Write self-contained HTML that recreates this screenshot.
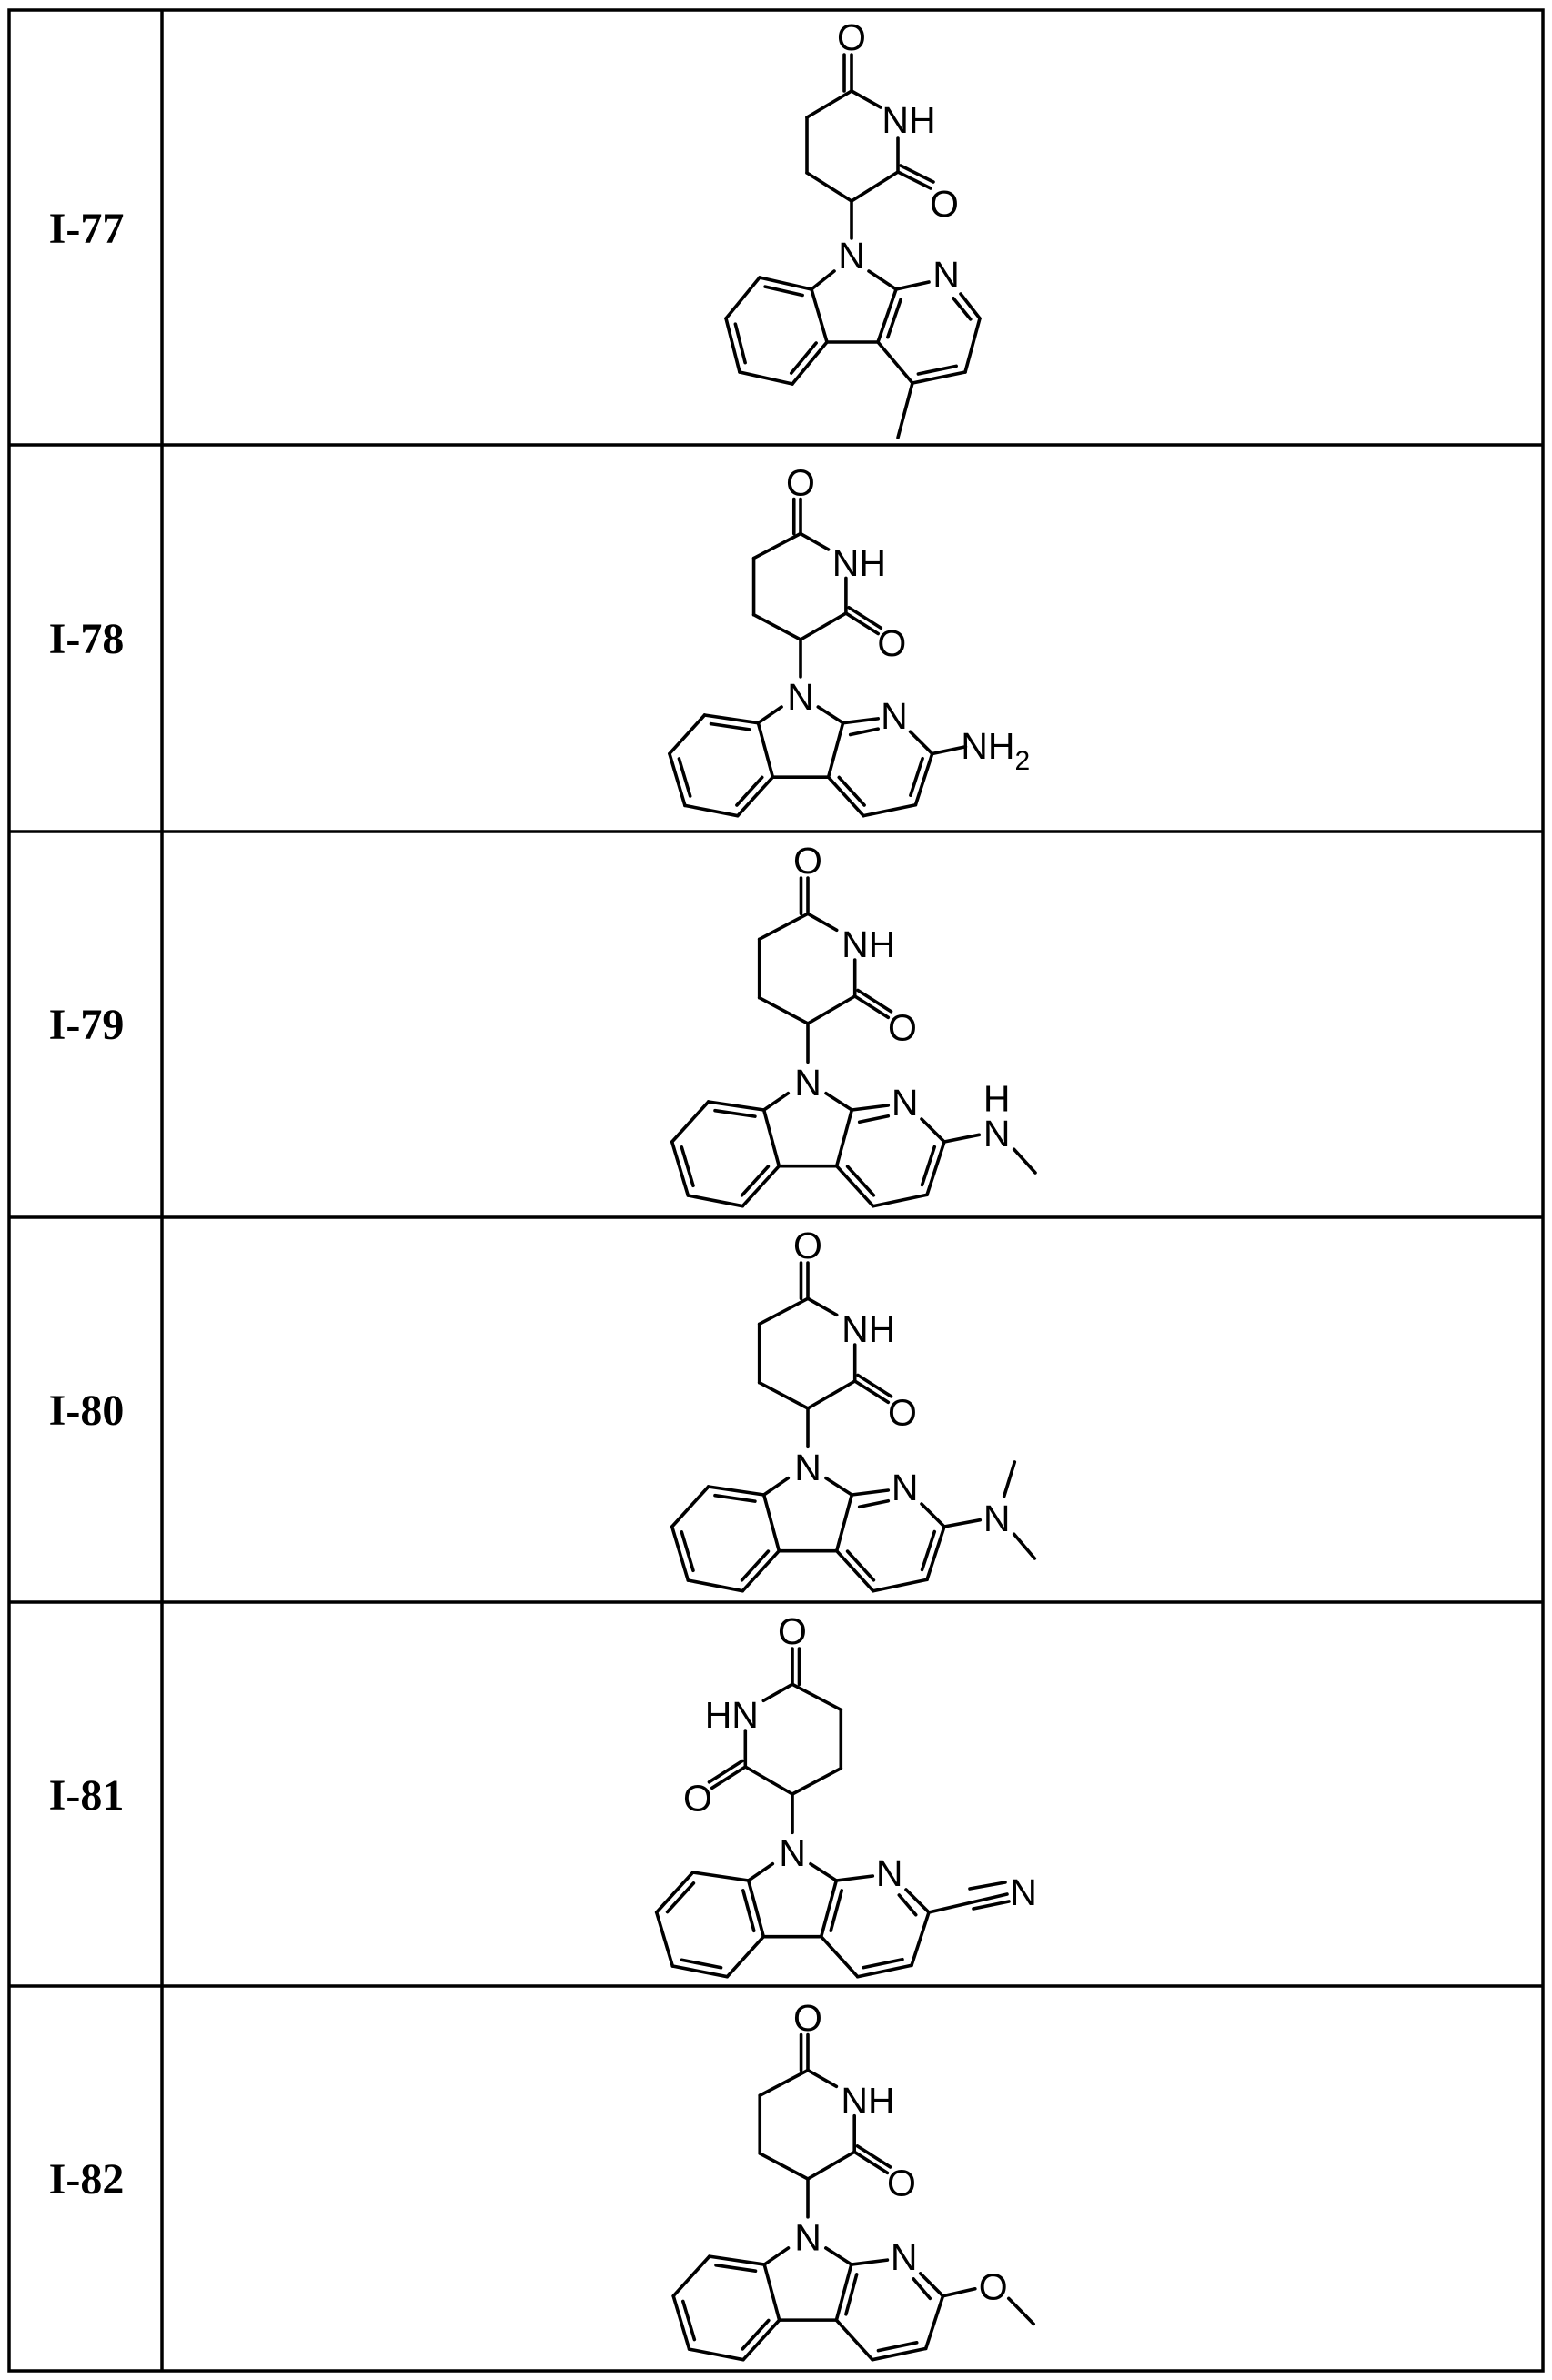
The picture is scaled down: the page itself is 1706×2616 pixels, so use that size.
<!DOCTYPE html>
<html><head><meta charset="utf-8"><style>
html,body{margin:0;padding:0;background:#fff;}
svg{display:block;}
</style></head><body>
<svg id="s" xmlns="http://www.w3.org/2000/svg" width="1706" height="2616" viewBox="0 0 1706 2616">
<rect width="1706" height="2616" fill="#fff"/>
<g stroke="#000" stroke-width="3.5" fill="none">
<rect x="10" y="11" width="1686" height="2595"/>
<line x1="178" y1="11" x2="178" y2="2606"/>
<line x1="10" y1="489" x2="1696" y2="489"/>
<line x1="10" y1="914" x2="1696" y2="914"/>
<line x1="10" y1="1338" x2="1696" y2="1338"/>
<line x1="10" y1="1761" x2="1696" y2="1761"/>
<line x1="10" y1="2183" x2="1696" y2="2183"/>
</g>
<g font-family="Liberation Serif, serif" font-weight="bold" font-size="48" text-anchor="middle">
<text x="95" y="267">I-77</text>
<text x="95" y="718">I-78</text>
<text x="95" y="1142">I-79</text>
<text x="95" y="1566">I-80</text>
<text x="95" y="1989">I-81</text>
<text x="95" y="2411">I-82</text>
</g>
<g id="mol" stroke="#000" stroke-width="3.6" fill="none" stroke-linecap="round"></g>
<g id="lab" font-family="Liberation Sans, sans-serif" font-size="41" text-anchor="middle" fill="#000"></g>
</svg>
<script>
var NS="http://www.w3.org/2000/svg";
var mol=document.getElementById('mol'), lab=document.getElementById('lab');
function L(a,b){var e=document.createElementNS(NS,'line');e.setAttribute('x1',a[0]);e.setAttribute('y1',a[1]);e.setAttribute('x2',b[0]);e.setAttribute('y2',b[1]);mol.appendChild(e);}
function T(p,s){var e=document.createElementNS(NS,'text');e.setAttribute('x',p[0]);e.setAttribute('y',p[1]+15);e.textContent=s;lab.appendChild(e);}
function inner(a,b,c){ // parallel line toward c
  var dx=b[0]-a[0],dy=b[1]-a[1],len=Math.sqrt(dx*dx+dy*dy);
  var nx=-dy/len,ny=dx/len;
  var mx=(a[0]+b[0])/2,my=(a[1]+b[1])/2;
  if((c[0]-mx)*nx+(c[1]-my)*ny<0){nx=-nx;ny=-ny;}
  var o=8.5,f=0.14;
  L([a[0]+dx*f+nx*o,a[1]+dy*f+ny*o],[b[0]-dx*f+nx*o,b[1]-dy*f+ny*o]);
}
function outerPar(a,b,ox,oy){L([a[0]+ox,a[1]+oy],[b[0]+ox,b[1]+oy]);}
function tr(o,s,p,m){return [o[0]+(m?-1:1)*p[0]*s,o[1]+p[1]*s];}

// ---------- I-77 (absolute) ----------
(function(){
 var C1=[936,100],C2=[987,189],C3=[936,221],C4=[887,190],C5=[887,129];
 L(C1,[936,60]);L([928,100],[928,60]);T([936,40],'O');
 L(C1,[968,118]);T([999,131],'NH');
 L([987,152],C2);
 L(C2,[1023,207]);L([990,182],[1026,200]);T([1038,223],'O');
 L(C2,C3);L(C3,C4);L(C4,C5);L(C5,C1);
 L(C3,[936,262]);T([936,280],'N');
 var C9a=[985,318],C8a=[892,318],C2p=[1077,350],C3p=[1061,409],C4p=[1003,421],C4a=[965,376],C4b=[909,376],
     C8=[835,305],C7=[798,350],C6=[813,409],C5p=[871,422];
 L([955,298],C9a);L([917,298],C8a);
 L(C9a,[1021,310]);T([1040,301],'N');
 L([1056,323],C2p);
 L(C2p,C3p);L(C3p,C4p);L(C4p,C4a);L(C4a,C9a);L(C4a,C4b);L(C4b,C8a);
 L(C8a,C8);L(C8,C7);L(C7,C6);L(C6,C5p);L(C5p,C4b);
 L(C4p,[987,481]);
 var bc=[853,363],pc=[1030,366];
 inner(C8a,C8,bc);inner(C7,C6,bc);inner(C5p,C4b,bc);
 inner(C9a,C4a,pc);inner([1051,318],C2p,pc);inner(C3p,C4p,pc);
})();

// ---------- template rows ----------
function glut(o,s,m){
 var P=function(p){return tr(o,s,p,m);};
 var C1=P([0,-120.7]),C2=P([51.7,-30]),C4=P([-53.3,-28.3]),C5=P([-53.3,-92.7]);
 L(C1,P([0,-160]));L(P([-7.5,-120.7]),P([-7.5,-160]));T(P([0,-180]),'O');
 L(C1,P([31.7,-102.7]));T(P([66.7,-88]),m?'HN':'NH');
 L(P([51.7,-70]),C2);
 L(C2,P([88.3,-6.7]));L(P([55,-36.5]),P([91.5,-13.2]));T(P([104,3.3]),'O');
 L(C2,o);L(o,C4);L(C4,C5);L(C5,C1);
}
function tri(o,s,kek,m){
 var P=function(p){return tr(o,s,p,false);};
 var C8a=P([-48.3,95]),C9a=P([48.3,95]),C2p=P([150,130]),C3p=P([131,188.3]),C4p=P([71.7,200.7]),
     C4a=P([31.7,156.7]),C4b=P([-31.7,156.7]),C5p=P([-71.7,200.7]),C6=P([-131.7,189]),C7=P([-149.3,130]),C8=P([-109.3,86]);
 L(o,P([0,42.3]));T(P([0,64]),'N');
 L(P([-21.7,76.7]),C8a);L(P([20,76.7]),C9a);
 L(C9a,P([88.3,90]));T(P([106.7,86]),'N');
 L(P([125,105]),C2p);
 L(C2p,C3p);L(C3p,C4p);L(C4p,C4a);L(C4a,C9a);L(C4a,C4b);L(C4b,C8a);
 L(C8a,C8);L(C8,C7);L(C7,C6);L(C6,C5p);L(C5p,C4b);
 var bc=P([-90.7,143]),pc=P([89.9,142.8]);
 if(kek.benz=='A'){inner(C8a,C8,bc);inner(C7,C6,bc);inner(C5p,C4b,bc);}
 else {inner(C8a,C4b,bc);inner(C8,C7,bc);inner(C6,C5p,bc);}
 if(kek.pyr=='A'){L(P([56.7,108.3]),P([88.3,101.7]));inner(C2p,C3p,pc);inner(C4p,C4a,pc);}
 else {inner(C9a,C4a,pc);L(P([117.3,111]),P([135.7,132.7]));inner(C3p,C4p,pc);}
 return {C2p:C2p,P:P};
}
// I-78
(function(){var o=[880,703],s=0.965;glut(o,s,false);var r=tri(o,s,{benz:'A',pyr:'A'});var P=r.P;
 L(r.C2p,P([188,122]));
 var e=document.createElementNS(NS,'text');var q=P([222,120]);e.setAttribute('x',q[0]);e.setAttribute('y',q[1]+15);
 e.innerHTML='NH<tspan font-size="30" dy="12">2</tspan>';lab.appendChild(e);
})();
// I-79
(function(){var o=[888,1125],s=1;glut(o,s,false);var r=tri(o,s,{benz:'A',pyr:'A'});var P=r.P;
 L(r.C2p,P([188.3,122.3]));T(P([207.7,120]),'N');T(P([207.7,81.7]),'H');
 L(P([226.7,138.3]),P([250,164]));
})();
// I-80
(function(){var o=[888,1548],s=1;glut(o,s,false);var r=tri(o,s,{benz:'A',pyr:'A'});var P=r.P;
 L(r.C2p,P([189.3,122.7]));T(P([207.7,120]),'N');
 L(P([215.7,96.7]),P([227.3,59]));L(P([226.7,138.3]),P([249.3,165]));
})();
// I-81
(function(){var o=[871,1972],s=1;glut(o,s,true);var r=tri(o,s,{benz:'B',pyr:'B'});var P=r.P;
 L(r.C2p,P([236,110]));L(P([195,104]),P([234,97]));L(P([199,126]),P([238,118]));
 T(P([254,107]),'N');
})();
// I-82
(function(){var o=[888,2395],s=0.99;glut(o,s,false);var r=tri(o,s,{benz:'A',pyr:'B'});var P=r.P;
 L(r.C2p,P([185.7,122]));T(P([205.7,118.7]),'O');
 L(P([223,132.7]),P([250.7,161]));
})();
</script>
</body></html>
